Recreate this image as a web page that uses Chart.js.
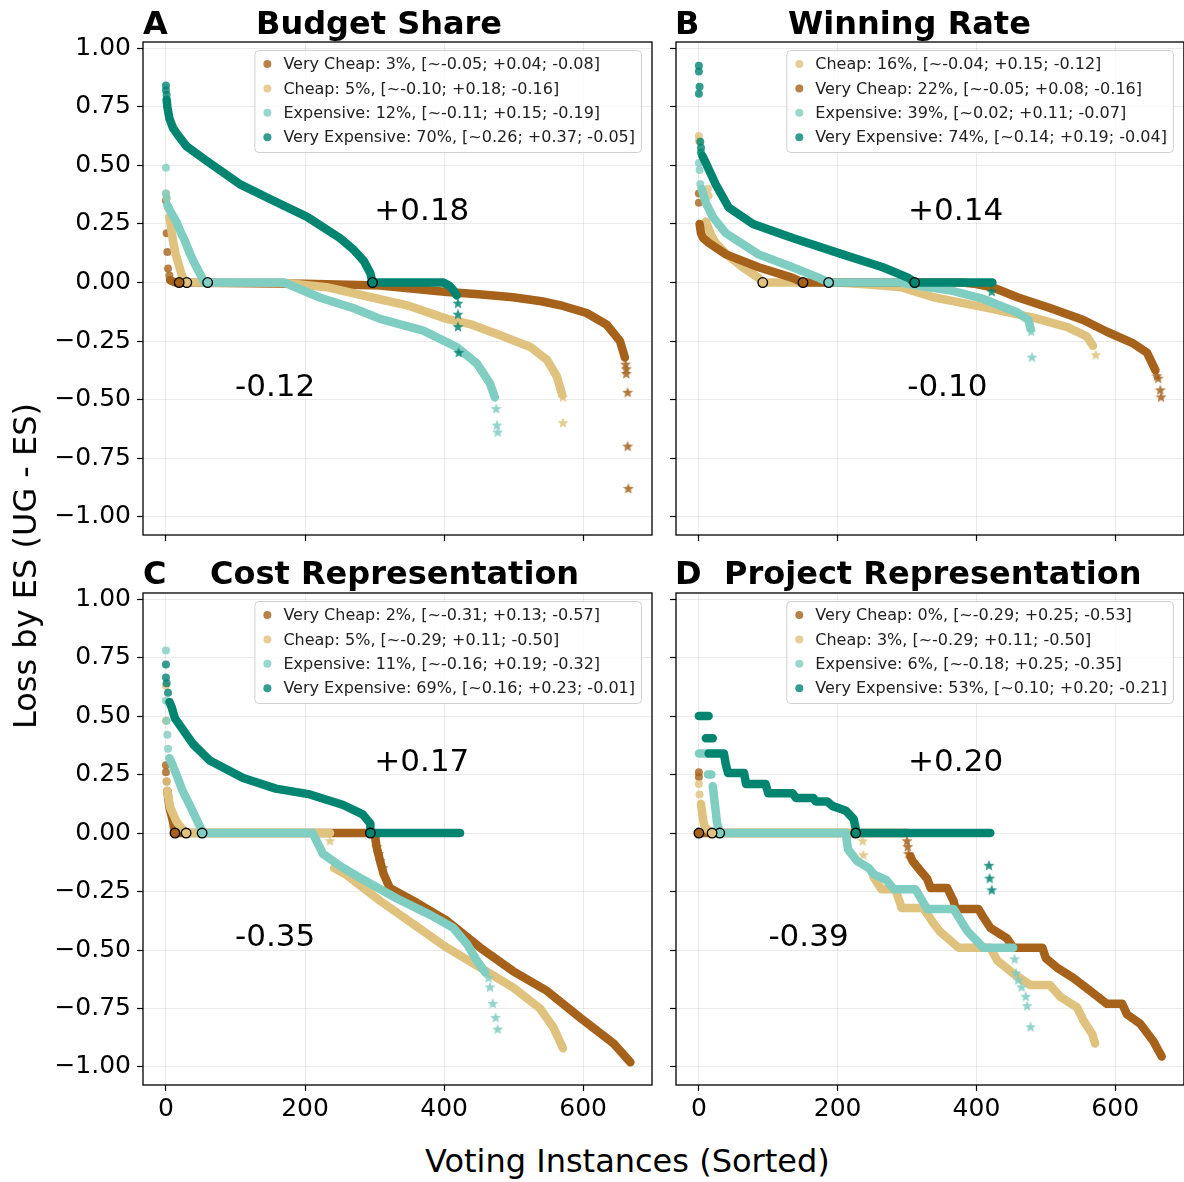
<!DOCTYPE html>
<html><head><meta charset="utf-8">
<script src="https://cdn.jsdelivr.net/npm/chart.js@4.4.1/dist/chart.umd.min.js"></script>
<style>
html,body{margin:0;padding:0;background:#fff;overflow:hidden;width:1184px;height:1182px;font-family:"DejaVu Sans",sans-serif;}
canvas{position:absolute;}
.t{position:absolute;white-space:nowrap;color:#000;line-height:1;font-family:"DejaVu Sans",sans-serif;}
.b{font-weight:bold;font-size:32px;}
</style></head><body>
<canvas id="cA" style="left:0;top:20px" width="660" height="540"></canvas>
<canvas id="cB" style="left:666px;top:20px" width="524" height="540"></canvas>
<canvas id="cC" style="left:0;top:570px" width="660" height="570"></canvas>
<canvas id="cD" style="left:666px;top:570px" width="524" height="570"></canvas>

<div class="t b" style="left:143px;top:7px">A</div>
<div class="t b" style="left:256px;top:7px">Budget Share</div>
<div class="t b" style="left:675px;top:7px">B</div>
<div class="t b" style="left:788px;top:7px">Winning Rate</div>
<div class="t b" style="left:143px;top:557px">C</div>
<div class="t b" style="left:210px;top:557px">Cost Representation</div>
<div class="t b" style="left:675px;top:557px">D</div>
<div class="t b" style="left:724px;top:557px">Project Representation</div>
<div class="t" style="left:425px;top:1145px;font-size:32px">Voting Instances (Sorted)</div>
<div class="t" style="left:25px;top:566px;font-size:32px;transform:translate(-50%,-50%) rotate(-90deg)">Loss by ES (UG - ES)</div>

<script>
// colours (BrBG)
const BROWN = '#a6611a', TAN = '#dfc27d', LTEAL = '#80cdc1', TEAL = '#018571';

const xTicks = [0, 200, 400, 600];
const yTicks = [-1, -0.75, -0.5, -0.25, 0, 0.25, 0.5, 0.75, 1];

// ---------- A: Budget Share ----------
const aLegend = ['Very Cheap: 3%, [~-0.05; +0.04; -0.08]', 'Cheap: 5%, [~-0.10; +0.18; -0.16]',
  'Expensive: 12%, [~-0.11; +0.15; -0.19]', 'Very Expensive: 70%, [~0.26; +0.37; -0.05]'];
const aNotes = [['+0.18', 368, 0.30], ['-0.12', 157, -0.45]];
const aCross = [19, 30, 60, 297];
const aVcDots = [[0,0.35],[1,0.21],[2,0.13],[3,0.06],[5,0.03]];
const aVcBody = [[6,0.01],[13,0],[200,-0.005],[308,-0.013],[404,-0.04],[450,-0.05],[499,-0.063],[540,-0.08],[571,-0.1],[605,-0.13],[634,-0.18],[653,-0.25],[660,-0.32]];
const aVcStars = [[661,-0.35],[662,-0.37],[662,-0.39],[664,-0.47],[664,-0.70],[665,-0.88]];
const aChDots = [[0,0.38],[1,0.36],[3,0.32]];
const aChBody = [[5,0.28],[8,0.22],[10,0.18],[14,0.12],[17,0.09],[21,0.05],[23,0.03],[28,0],[165,0],[231,-0.02],[298,-0.065],[350,-0.1],[404,-0.155],[440,-0.18],[476,-0.22],[524,-0.275],[548,-0.33],[562,-0.40],[570,-0.48]];
const aChStars = [[571,-0.49],[571,-0.60]];
const aExDots = [[0,0.49],[0,0.38],[1,0.36]];
const aExBody = [[2,0.33],[7,0.30],[15,0.26],[22,0.21],[27,0.18],[35,0.12],[44,0.065],[52,0.02],[55,0],[170,0],[222,-0.065],[270,-0.11],[308,-0.155],[370,-0.205],[418,-0.275],[447,-0.345],[466,-0.43],[473,-0.49]];
const aExStars = [[475,-0.54],[476,-0.61],[477,-0.64]];
const aVeDots = [[0,0.84],[0,0.82],[1,0.80]];
const aVeBody = [[1,0.78],[2,0.75],[5,0.70],[10,0.66],[17,0.63],[30,0.58],[58,0.52],[106,0.42],[154,0.35],[203,0.28],[250,0.19],[270,0.14],[285,0.09],[294,0.04],[297,0],[399,0],[408,-0.015],[414,-0.035],[418,-0.055]];
const aVeStars = [[420,-0.09],[420,-0.137],[420,-0.19],[421,-0.30]];

// ---------- B: Winning Rate ----------
const bLegend = ['Cheap: 16%, [~-0.04; +0.15; -0.12]', 'Very Cheap: 22%, [~-0.05; +0.08; -0.16]',
  'Expensive: 39%, [~0.02; +0.11; -0.07]', 'Very Expensive: 74%, [~0.14; +0.19; -0.04]'];
const bNotes = [['+0.14', 370, 0.30], ['-0.10', 358, -0.45]];
const bCross = [92, 150, 187, 311];
const bChDots = [[0,0.625],[0,0.605],[13,0.40],[14,0.37]];
const bChBody = [[10,0.26],[18,0.2],[24,0.17],[40,0.12],[63,0.065],[86,0.02],[92,0],[200,0],[250,-0.01],[291,-0.02],[338,-0.063],[410,-0.105],[482,-0.15],[531,-0.19],[559,-0.23],[568,-0.27]];
const bChStars = [[572,-0.31]];
const bVcDots = [[0,0.38],[0,0.34]];
const bVcBody = [[1,0.25],[3,0.21],[6,0.19],[14,0.17],[39,0.12],[86,0.065],[135,0.02],[150,0],[380,0],[396,-0.005],[423,-0.02],[459,-0.063],[507,-0.11],[554,-0.16],[588,-0.21],[626,-0.26],[646,-0.30],[658,-0.375]];
const bVcStars = [[660,-0.40],[662,-0.41],[665,-0.46],[666,-0.49]];
const bExDots = [[0,0.51],[1,0.48],[2,0.42]];
const bExBody = [[4,0.40],[10,0.34],[20,0.28],[39,0.21],[86,0.12],[135,0.065],[173,0.02],[187,0],[291,0],[315,-0.013],[363,-0.034],[410,-0.07],[459,-0.128],[475,-0.16],[478,-0.197]];
const bExStars = [[479,-0.21],[480,-0.32]];
const bVeDots = [[0,0.925],[0,0.90],[1,0.835],[0,0.805],[2,0.60],[3,0.575],[3,0.555]];
const bVeBody = [[5,0.54],[10,0.51],[24,0.42],[43,0.32],[78,0.25],[135,0.19],[207,0.12],[265,0.065],[302,0.02],[311,0],[423,0]];
const bVeStars = [[422,-0.04]];

// ---------- C: Cost Representation ----------
const cLegend = ['Very Cheap: 2%, [~-0.31; +0.13; -0.57]', 'Cheap: 5%, [~-0.29; +0.11; -0.50]',
  'Expensive: 11%, [~-0.16; +0.19; -0.32]', 'Very Expensive: 69%, [~0.16; +0.23; -0.01]'];
const cNotes = [['+0.17', 368, 0.30], ['-0.35', 157, -0.45]];
const cCross = [13, 29, 52, 294];
const cVcDots = [[0,0.29],[0,0.26],[1,0.22]];
const cVcBody = [[2,0.18],[5,0.11],[10,0.05],[13,0],[300,0],[303,-0.06],[308,-0.12],[313,-0.175],[322,-0.235],[356,-0.29],[404,-0.375],[452,-0.49],[499,-0.59],[548,-0.675],[596,-0.79],[644,-0.90],[668,-0.98]];
const cVcStars = [[302,-0.02],[303,-0.06],[306,-0.09],[308,-0.12],[312,-0.15]];
const cChDots = [[0,0.63],[0,0.48],[1,0.22]];
const cChBody = [[2,0.18],[6,0.11],[15,0.05],[20,0.03],[29,0],[236,0],null,[242,-0.15],[260,-0.18],[308,-0.29],[356,-0.39],[404,-0.49],[452,-0.575],[499,-0.66],[538,-0.75],[557,-0.83],[571,-0.92]];
const cChStars = [[236,-0.035]];
const cExDots = [[0,0.78],[0,0.565],[1,0.48],[2,0.42],[3,0.36]];
const cExBody = [[5,0.32],[9,0.295],[15,0.25],[24,0.18],[34,0.12],[43,0.065],[50,0.02],[52,0],[211,0],[226,-0.09],[250,-0.14],[284,-0.2],[332,-0.28],[380,-0.35],[413,-0.405],[433,-0.475],[447,-0.545],[459,-0.595]];
const cExStars = [[464,-0.62],[466,-0.66],[470,-0.73],[474,-0.79],[477,-0.84]];
const cVeDots = [[0,0.72],[0,0.665],[1,0.64],[3,0.60]];
const cVeBody = [[5,0.56],[8,0.54],[13,0.49],[39,0.38],[63,0.31],[111,0.235],[158,0.19],[207,0.165],[255,0.12],[283,0.08],[294,0.04],[294,0],[423,0]];
const cVeStars = [];

// ---------- D: Project Representation ----------
const dLegend = ['Very Cheap: 0%, [~-0.29; +0.25; -0.53]', 'Cheap: 3%, [~-0.29; +0.11; -0.50]',
  'Expensive: 6%, [~-0.18; +0.25; -0.35]', 'Very Expensive: 53%, [~0.10; +0.20; -0.21]'];
const dNotes = [['+0.20', 370, 0.30], ['-0.39', 158, -0.45]];
const dCross = [0, 19, 30, 226];
const dVcDots = [[0,0.26],[0,0.24]];
const dVcBody = [[0,0],[300,0],null,[305,-0.1],[308,-0.12],[319,-0.16],[329,-0.195],[334,-0.235],[358,-0.235],[367,-0.29],[370,-0.325],[403,-0.325],[410,-0.36],[420,-0.405],[444,-0.45],[453,-0.49],[495,-0.49],[500,-0.535],[516,-0.575],[540,-0.62],[564,-0.675],[588,-0.73],[610,-0.73],[617,-0.775],[636,-0.815],[655,-0.89],[667,-0.955]];
const dVcStars = [[300,-0.035],[301,-0.06],[302,-0.09]];
const dChDots = [[0,0.21],[1,0.165]];
const dChBody = [[3,0.125],[5,0.08],[7,0.04],[10,0.02],[19,0],[221,0],null,[250,-0.17],[252,-0.19],[263,-0.24],[283,-0.24],[290,-0.3],[292,-0.32],[323,-0.32],[338,-0.385],[347,-0.42],[374,-0.49],[420,-0.49],[430,-0.545],[453,-0.60],[478,-0.65],[506,-0.65],[521,-0.70],[545,-0.745],[554,-0.80],[567,-0.86],[571,-0.90]];
const dChStars = [[236,-0.035],[237,-0.095]];
const dExDots = [];
const dExBody = [[0,0.34],[12,0.34],null,[13,0.25],[18,0.25],null,[20,0.2],[22,0.15],[24,0.1],[26,0.045],[30,0],[212,0],[213,-0.03],[215,-0.07],[228,-0.12],[245,-0.15],[252,-0.177],[270,-0.2],[281,-0.24],[312,-0.24],[329,-0.325],[367,-0.325],[387,-0.42],[410,-0.49],[453,-0.49]];
const dExStars = [[455,-0.54],[457,-0.6],[460,-0.63],[465,-0.66],[471,-0.70],[473,-0.74],[478,-0.83]];
const dVeDots = [];
const dVeBody = [[0,0.5],[14,0.5],null,[10,0.405],[20,0.405],null,[14,0.34],[36,0.34],[39,0.29],[42,0.257],[65,0.257],[68,0.21],[96,0.21],[100,0.17],[135,0.17],[140,0.15],[165,0.15],[168,0.135],[185,0.135],[193,0.115],[212,0.095],[223,0.06],[226,0.02],[226,0],[420,0]];
const dVeStars = [[418,-0.14],[419,-0.195],[422,-0.245]];

// ---------- helpers ----------
function rgba(hex, a) {
  const n = parseInt(hex.slice(1), 16);
  return `rgba(${n >> 16},${(n >> 8) & 255},${n & 255},${a})`;
}
const pts = arr => arr.map(p => p ? {x: p[0], y: p[1]} : {x: 0, y: null});

function starImg(color) {
  const c = document.createElement('canvas');
  c.width = c.height = 12;
  const g = c.getContext('2d');
  g.fillStyle = color;
  g.beginPath();
  for (let i = 0; i < 10; i++) {
    const r = i % 2 ? 2.5 : 5.8, a = -Math.PI / 2 + i * Math.PI / 5;
    g.lineTo(6 + r * Math.cos(a), 6 + r * Math.sin(a));
  }
  g.closePath();
  g.fill();
  return c;
}

const decor = {
  id: 'decor',
  afterDatasetsDraw(chart, args, o) {
    const {ctx, chartArea: a, scales: {x, y}} = chart;
    ctx.save();
    ctx.font = '31px "DejaVu Sans"';
    ctx.fillStyle = '#000';
    ctx.textAlign = 'center';
    ctx.textBaseline = 'middle';
    o.notes.forEach(n => ctx.fillText(n[0], x.getPixelForValue(n[1]), y.getPixelForValue(n[2])));
    // frame
    ctx.strokeStyle = '#000';
    ctx.lineWidth = 1.3;
    ctx.strokeRect(a.left, a.top, a.right - a.left, a.bottom - a.top);
    // legend
    ctx.font = '16px "DejaVu Sans"';
    ctx.textAlign = 'left';
    const tw = Math.max(...o.labels.map(t => ctx.measureText(t).width));
    const w = 29 + tw + 6, h = 102;
    const lx = a.right - 11 - w, ly = a.top + 8;
    ctx.beginPath();
    ctx.roundRect(lx + 0.5, ly + 0.5, w, h, 4);
    ctx.fillStyle = 'rgba(255,255,255,0.8)';
    ctx.fill();
    ctx.strokeStyle = '#d0d0d0';
    ctx.lineWidth = 1;
    ctx.stroke();
    o.labels.forEach((t, i) => {
      const cy = ly + 14 + i * 24.4;
      ctx.beginPath();
      ctx.arc(lx + 13, cy, 4, 0, Math.PI * 2);
      ctx.fillStyle = rgba(o.colors[i], 0.8);
      ctx.fill();
      ctx.fillStyle = '#222';
      ctx.fillText(t, lx + 29, cy + 1);
    });
    ctx.restore();
  }
};

function series(color, dots, body, stars, cross, order) {
  const star = starImg(rgba(color, 0.85));
  return [
    {data: pts(body), showLine: true, borderColor: color, borderWidth: 8.5, pointRadius: 0,
      borderCapStyle: 'round', borderJoinStyle: 'round', spanGaps: false, order: order},
    {data: pts(dots), pointRadius: 4, backgroundColor: rgba(color, 0.8), borderWidth: 0, order: order},
    {data: pts(stars), pointStyle: star, pointRadius: 5, order: order - 1},
    {data: [{x: cross, y: 0}], pointRadius: 4.8, backgroundColor: color, borderColor: '#000', borderWidth: 1.3, order: 0}
  ];
}

function panel(id, sets, labels, colors, notes, yLabels, xLabels, yWidth, xHeight, pad) {
  const datasets = [];
  sets.forEach(s => datasets.push(...series(...s)));
  new Chart(document.getElementById(id), {
    type: 'scatter',
    data: {datasets},
    plugins: [decor],
    options: {
      responsive: false, animation: false, devicePixelRatio: 1,
      layout: {padding: pad},
      plugins: {legend: {display: false}, tooltip: {enabled: false}, decor: {labels, colors, notes}},
      scales: {
        x: {
          type: 'linear', min: -33, max: 699,
          afterBuildTicks: s => { s.ticks = xTicks.map(v => ({value: v})); },
          afterFit: s => { s.height = xHeight; },
          grid: {color: 'rgba(0,0,0,0.08)', tickColor: '#000', tickLength: 6, tickWidth: 1.2},
          border: {display: false},
          ticks: {color: '#000', font: {size: 25, family: 'DejaVu Sans'}, padding: 3, maxRotation: 0,
            callback: v => xLabels ? String(v) : ''}
        },
        y: {
          type: 'linear', min: -1.077, max: 1.026,
          afterBuildTicks: s => { s.ticks = yTicks.map(v => ({value: v})); },
          afterFit: s => { s.width = yWidth; },
          grid: {color: 'rgba(0,0,0,0.08)', tickColor: '#000', tickLength: 6, tickWidth: 1.2},
          border: {display: false},
          ticks: {color: '#000', font: {size: 25, family: 'DejaVu Sans'}, padding: 6,
            callback: v => yLabels ? v.toFixed(2).replace('-', '\u2212') : ''}
        }
      }
    }
  });
}

const colsStd = [BROWN, TAN, LTEAL, TEAL];
panel('cA', [
  [BROWN, aVcDots, aVcBody, aVcStars, aCross[0], 40],
  [TAN, aChDots, aChBody, aChStars, aCross[1], 30],
  [LTEAL, aExDots, aExBody, aExStars, aCross[2], 20],
  [TEAL, aVeDots, aVeBody, aVeStars, aCross[3], 10]
], aLegend, colsStd, aNotes, true, false, 143, 10, {left: 0, right: 8, top: 22, bottom: 15});

panel('cB', [
  [TAN, bChDots, bChBody, bChStars, bCross[0], 40],
  [BROWN, bVcDots, bVcBody, bVcStars, bCross[1], 30],
  [LTEAL, bExDots, bExBody, bExStars, bCross[2], 20],
  [TEAL, bVeDots, bVeBody, bVeStars, bCross[3], 10]
], bLegend, [TAN, BROWN, LTEAL, TEAL], bNotes, false, false, 10, 10, {left: 0, right: 5, top: 22, bottom: 15});

panel('cC', [
  [BROWN, cVcDots, cVcBody, cVcStars, cCross[0], 40],
  [TAN, cChDots, cChBody, cChStars, cCross[1], 30],
  [LTEAL, cExDots, cExBody, cExStars, cCross[2], 20],
  [TEAL, cVeDots, cVeBody, cVeStars, cCross[3], 10]
], cLegend, colsStd, cNotes, true, true, 143, 42, {left: 0, right: 8, top: 23, bottom: 13});

panel('cD', [
  [BROWN, dVcDots, dVcBody, dVcStars, dCross[0], 40],
  [TAN, dChDots, dChBody, dChStars, dCross[1], 30],
  [LTEAL, dExDots, dExBody, dExStars, dCross[2], 20],
  [TEAL, dVeDots, dVeBody, dVeStars, dCross[3], 10]
], dLegend, colsStd, dNotes, false, true, 10, 42, {left: 0, right: 5, top: 23, bottom: 13});
</script>
</body></html>
